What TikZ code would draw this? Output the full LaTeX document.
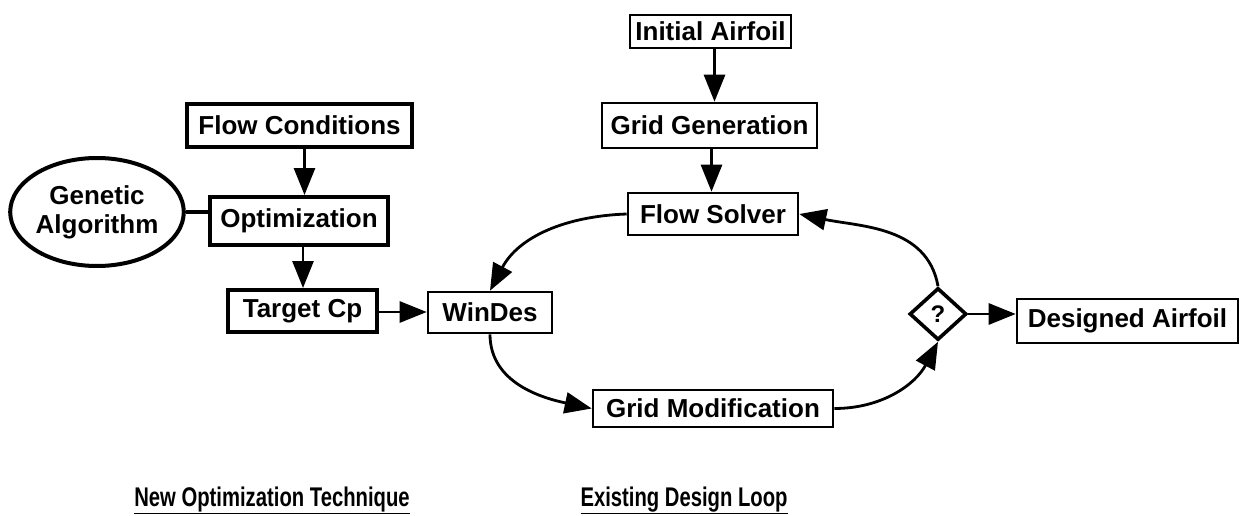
\documentclass[tikz,border=0pt]{standalone}
\usepackage{fontspec}
\setmainfont{Liberation Sans}
\usetikzlibrary{arrows.meta,shapes.geometric}
\begin{document}
\begin{tikzpicture}[x=1pt,y=-1pt,
  every node/.style={font=\fontsize{26}{30}\selectfont\bfseries, inner sep=0pt},
  thickbox/.style={draw, line width=4pt, rectangle},
  thinbox/.style={draw, line width=2.6pt, rectangle},
  arr/.style={line width=2.8pt, -{Triangle[length=27pt,width=21pt]}},
  conn/.style={line width=3.6pt},
  caption/.style={font=\fontsize{27}{30}\selectfont\bfseries, anchor=base}
]
\useasboundingbox (0,0) rectangle (1242,516);
% left part
\node[thickbox, minimum width=225pt, minimum height=43pt] (FC) at (299.5,125.5) {Flow Conditions};
\node[draw, ellipse, line width=4pt, minimum width=172pt, minimum height=108pt, align=center,
      font=\fontsize{26}{29}\selectfont\bfseries] (GA) at (97,212) {Genetic\\Algorithm};
\node[thickbox, minimum width=178pt, minimum height=48pt] (OPT) at (299,221) {Optimization};
\node[thickbox, minimum width=149pt, minimum height=42pt] (TCP) at (302.5,311) {Target Cp};
% right part
\node[thinbox, minimum width=161pt, minimum height=33pt] (IA) at (710.5,31.5) {Initial Airfoil};
\node[thinbox, minimum width=215pt, minimum height=45pt] (GG) at (709.5,125.5) {Grid Generation};
\node[thinbox, minimum width=170pt, minimum height=42pt] (FS) at (713,214) {Flow Solver};
\node[thinbox, minimum width=124pt, minimum height=41pt] (WD) at (490,312.5) {WinDes};
\node[thinbox, minimum width=240pt, minimum height=37pt] (GM) at (713,408.5) {Grid Modification};
\node[draw, diamond, line width=3.6pt, minimum width=57pt, minimum height=52pt,
      font=\fontsize{24}{28}\selectfont\bfseries] (Q) at (938,314) {?};
\node[thinbox, minimum width=221pt, minimum height=44pt] (DA) at (1127.5,321) {Designed Airfoil};
% connectors
\draw[arr] ([xshift=5pt]FC.south) -- ([xshift=5pt]FC.south |- OPT.north);
\draw[arr] ([xshift=4pt]OPT.south) -- ([xshift=4pt]OPT.south |- TCP.north);
\draw[conn] (GA.east |- 0,212) -- (OPT.west |- 0,212);
\draw[arr] (TCP.east |- 0,312) -- (WD.west |- 0,312);
\draw[arr] ([xshift=4pt]IA.south) -- ([xshift=4pt]IA.south |- GG.north);
\draw[arr] ([xshift=2pt]GG.south) -- ([xshift=2pt]GG.south |- FS.north);
\draw[arr] (FS.west) to[out=182,in=62] (WD.north);
\draw[arr] (WD.south) to[out=-90,in=168] (GM.west);
\draw[arr] (GM.east) to[out=0,in=-118] (Q.south);
\draw[arr] (Q.north) to[out=100,in=-12] (FS.east);
\draw[arr] (Q.east) -- (Q.east -| DA.west);
% captions
\node[caption] (L1) at (272,506) {\scalebox{0.75}[1]{\underline{New Optimization Technique}}};
\node[caption] (L2) at (684,506) {\scalebox{0.75}[1]{\underline{Existing Design Loop}}};
\end{tikzpicture}
\end{document}
